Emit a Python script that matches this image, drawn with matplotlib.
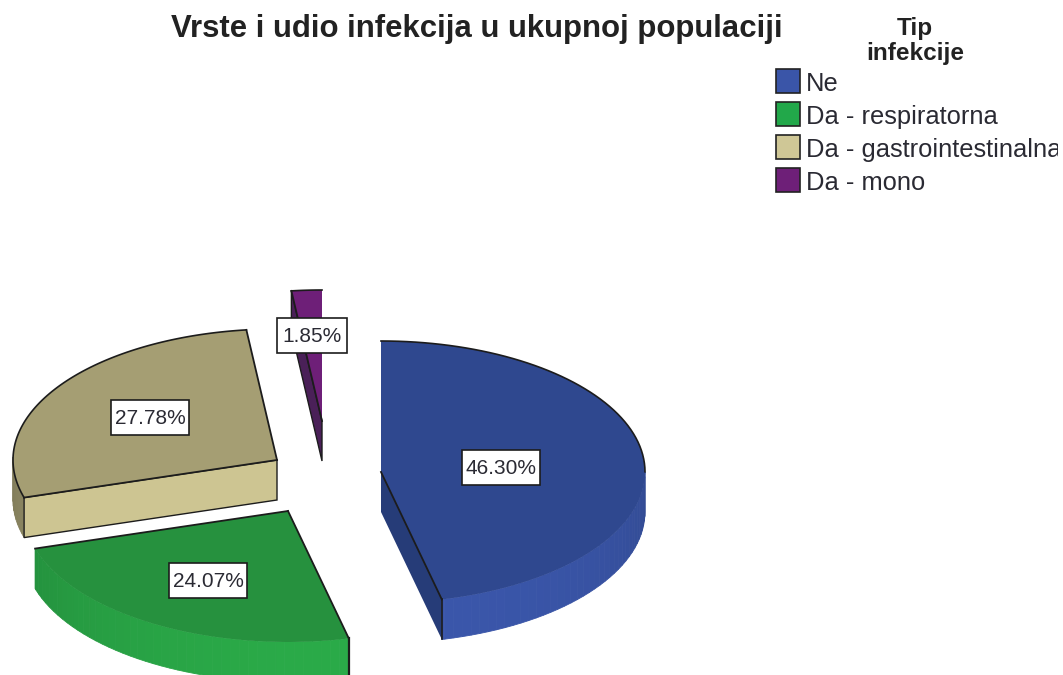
import numpy as np
import matplotlib
matplotlib.use('Agg')
import matplotlib.pyplot as plt
from matplotlib.patches import Rectangle

title = 'Vrste i udio infekcija u ukupnoj populaciji'
legend_title = 'Tip\ninfekcije'
categories = ['Ne', 'Da - respiratorna', 'Da - gastrointestinalna', 'Da - mono']
percent = [46.30, 24.07, 27.78, 1.85]
percent_labels = ['46.30%', '24.07%', '27.78%', '1.85%']

swatch_colors = ['#3a55a8', '#22a84a', '#cfc796', '#6e1f78']
top_colors = ['#2f488f', '#26913e', '#a59e73', '#6e1f78']
rim_colors = ['#3a56aa', '#2aaa48', '#a09a70', '#4a2058']
side_colors = ['#263c78', '#26913e', '#cdc592', '#4a2058']

# where each exploded slice has its tip, and where its label box sits (pixels)
tips = [(381, 472), (288, 511), (277, 460), (322, 421)]
label_pos = [(501, 467), (208, 580), (150, 417), (312, 335)]

RX = 264
RY = 131
DEPTH = 40
EDGE = '#1c1c1c'

plt.rcParams['font.family'] = ['Liberation Sans', 'DejaVu Sans']


def rim_xy(tip, deg):
    a = np.radians(deg)
    return tip[0] + RX * np.sin(a), tip[1] - RY * np.cos(a)


def shade(color, amount):
    c = np.array(matplotlib.colors.to_rgb(color))
    return tuple(np.clip(c * amount, 0, 1))


def draw_slice(ax, tip, a0, a1, top, rim, side):
    deg = np.linspace(a0, a1, 90)
    xs, ys = rim_xy(tip, deg)

    # outer wall, only the part that faces the viewer
    steps = np.arange(max(a0, 90), min(a1, 270), 2.0)
    for d in steps:
        d2 = min(d + 2.0, a1)
        x1, y1 = rim_xy(tip, d)
        x2, y2 = rim_xy(tip, d2)
        amount = 0.86 + 0.14 * np.cos(np.radians(d - 170) * 1.1)
        ax.fill([x1, x2, x2, x1], [y1, y2, y2 + DEPTH, y1 + DEPTH],
                color=shade(rim, amount), lw=0.6, zorder=2)

    # cut faces
    if 180 <= a0 < 360:
        x, y = rim_xy(tip, a0)
        ax.fill([tip[0], x, x, tip[0]], [tip[1], y, y + DEPTH, tip[1] + DEPTH],
                facecolor=side, edgecolor=EDGE, lw=1.0, zorder=3)
    if 90 <= a1 <= 180:
        x, y = rim_xy(tip, a1)
        ax.fill([tip[0], x, x, tip[0]], [tip[1], y, y + DEPTH, tip[1] + DEPTH],
                facecolor=side, edgecolor='none', zorder=3)
        ax.plot([x, x], [y, y + DEPTH], color=EDGE, lw=1.2, zorder=5)

    ax.fill(np.r_[tip[0], xs], np.r_[tip[1], ys], color=top, lw=0, zorder=4)

    # dark lines on the top face
    keep = (deg < 90) | (a0 > 250)
    ax.plot(xs[keep], ys[keep], color=EDGE, lw=1.2, zorder=5)
    if a0 > 0:
        x, y = rim_xy(tip, a0)
        ax.plot([tip[0], x], [tip[1], y], color=EDGE, lw=1.3, zorder=5)
    if a1 < 360:
        x, y = rim_xy(tip, a1)
        ax.plot([tip[0], x], [tip[1], y], color=EDGE, lw=1.3, zorder=5)
    if a0 < 180 < a1:
        x, y = rim_xy(tip, a0)
        ax.plot([x, x], [y, y + DEPTH], color=EDGE, lw=1.6, zorder=5)


def main():
    fig = plt.figure(figsize=(10.63, 6.75), dpi=100)
    ax = fig.add_axes([0, 0, 1, 1])
    ax.set_xlim(0, 1063)
    ax.set_ylim(675, 0)
    ax.axis('off')

    ends = np.cumsum(percent) * 3.6
    starts = np.r_[0, ends[:-1]]

    for i in [3, 2, 1, 0]:
        draw_slice(ax, tips[i], starts[i], ends[i], top_colors[i], rim_colors[i], side_colors[i])

    for (x, y), lab in zip(label_pos, percent_labels):
        w = 78 if len(lab) > 5 else 70
        ax.add_patch(Rectangle((x - w / 2, y - 17.5), w, 35, facecolor='white',
                               edgecolor='#1c1c1c', lw=1.2, zorder=6))
        ax.text(x, y + 1.5, lab, fontsize=15, color='#2a2a33', ha='center', va='center', zorder=7)

    ax.text(477, 29, title, fontsize=22.4, fontweight='bold', color='#222222',
            ha='center', va='center')
    ax.text(915, 41, legend_title, fontsize=17.5, fontweight='bold', color='#222222',
            ha='center', va='center', linespacing=1.12)

    # the last legend label runs off the edge of the picture in the original
    clip = Rectangle((0, 0), 1058, 675, transform=ax.transData)
    for i, name in enumerate(categories):
        y = 69 + i * 33
        ax.add_patch(Rectangle((776, y), 24, 24, facecolor=swatch_colors[i],
                               edgecolor='#222222', lw=1.2))
        t = ax.text(806, y + 15, name, fontsize=18.4, color='#2a2a33', ha='left', va='center')
        t.set_clip_on(True)
        t.set_clip_path(clip)

    fig.savefig('out.png', dpi=100, facecolor='white')


if __name__ == '__main__':
    main()
